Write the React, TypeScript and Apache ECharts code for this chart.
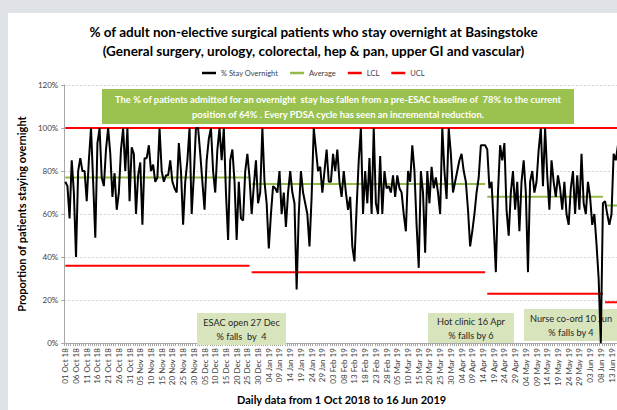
import React, { useEffect, useRef } from "react";
import * as echarts from "echarts";

const MONTHS = ["Jan", "Feb", "Mar", "Apr", "May", "Jun", "Jul", "Aug", "Sep", "Oct", "Nov", "Dec"];
const START_UTC = Date.UTC(2018, 9, 1);
const DAY_COUNT = 259;
const categories: string[] = Array.from({ length: DAY_COUNT }, (_, i) => {
  const d = new Date(START_UTC + i * 86400000);
  return `${String(d.getUTCDate()).padStart(2, "0")} ${MONTHS[d.getUTCMonth()]} ${String(d.getUTCFullYear()).slice(2)}`;
});

// % stay overnight, daily, 1 Oct 2018 - 16 Jun 2019
const stayOvernight: number[] = [
  75, 73, 58, 85, 70, 40, 80, 86, 80, 80,
  66, 85, 100, 75, 49, 93, 100, 77, 73, 90,
  100, 88, 68, 79, 62, 70, 90, 100, 80, 100,
  66, 91, 88, 60, 78, 84, 55, 86, 86, 92,
  80, 83, 75, 77, 100, 80, 75, 78,
  78, 85, 75, 72, 70, 93, 80, 55, 75, 85, 100, 60, 78, 100, 100,
  88, 75, 62, 85, 95, 100, 80, 70, 90, 100,
  85, 100, 70, 48, 85, 90, 75, 48, 75, 58,
  57, 80, 88, 77, 60, 73, 85, 65, 70, 100,
  75, 65, 44, 60, 73, 72, 70, 80, 60, 70,
  54, 70, 80, 70, 65, 25, 60, 80, 70, 65,
  60, 45, 68, 100, 90, 80, 82, 70, 80, 90, 75, 75,
  88, 80, 90, 75, 68, 80, 70, 62, 68, 45,
  38, 63, 85, 100, 60, 80, 65, 86, 60, 100,
  65, 60, 87, 60, 80, 72, 73, 70, 78, 68,
  78, 72, 70, 60, 52, 80, 75, 92, 80, 55,
  35, 80, 70, 42, 80, 65, 82, 72, 77, 70,
  60, 100, 80, 67, 100, 88, 70, 75, 80, 85, 88, 80,
  75, 62, 45, 52, 60, 70, 77, 92, 92, 92,
  90, 72, 75, 55, 33, 70, 92, 85, 93, 62,
  50, 70, 80, 62, 75, 52, 75, 85, 70, 33,
  75, 80, 70, 75, 90, 100, 73, 100, 78, 62,
  85, 75, 68, 78, 72, 62, 75, 60, 55, 72,
  80, 60, 78, 62, 88, 65, 60, 75, 68, 55,
  60, 46, 30, 0, 65, 66, 60, 55, 60, 88, 85, 92,
];

// [startIndex, endIndex, value]
const averageSegments: [number, number, number][] = [
  [0, 86, 77],
  [87, 196, 74],
  [197, 251, 68],
  [252, 258, 64],
];
const lclSegments: [number, number, number][] = [
  [0, 86, 36],
  [87, 196, 33],
  [197, 251, 23],
  [252, 258, 19],
];
const uclSegments: [number, number, number][] = [[0, 258, 100]];

const yTicks = { min: 0, max: 120, interval: 20 };

const TITLE_LINES = [
  "% of adult non-elective surgical patients who stay overnight at Basingstoke",
  "(General surgery, urology, colorectal, hep & pan, upper GI and vascular)",
];
const NOTE_MAIN =
  "The % of patients admitted for an overnight  stay has fallen from a pre-ESAC baseline of  78% to the current\nposition of 64% . Every PDSA cycle has seen an incremental reduction.";
const NOTES_SMALL = [
  "ESAC open 27 Dec\n% falls  by  4",
  "Hot clinic 16 Apr\n% falls by 6",
  "Nurse co-ord 10 Jun\n% falls by 4",
];

const FONT = 'Lato, "Liberation Sans", sans-serif';

function segmentData(seg: [number, number, number]) {
  return categories.map((_, i) => (i >= seg[0] && i <= seg[1] ? seg[2] : null));
}

export default function App() {
  const ref = useRef<HTMLDivElement>(null);

  useEffect(() => {
    if (!ref.current) return;
    const chart = echarts.init(ref.current, undefined, { renderer: "svg" });

    const green = "#94b84a";
    const red = "#ff0000";

    const segSeries = (name: string, segs: [number, number, number][], color: string, z: number) =>
      segs.map((s) => ({
        name,
        type: "line",
        data: segmentData(s),
        showSymbol: false,
        symbol: "none",
        connectNulls: false,
        lineStyle: { color, width: 2 },
        itemStyle: { color },
        z,
        silent: true,
      }));

    const smallBox = (x: number, y: number, w: number, h: number, text: string, tx: number) => [
      {
        type: "rect",
        shape: { x, y, width: w, height: h },
        style: { fill: "#d7e4bc" },
        z: 1,
      },
      {
        type: "text",
        x: tx,
        y: y + h / 2,
        z: 1,
        style: {
          text,
          align: "center",
          verticalAlign: "middle",
          fontFamily: FONT,
          fontSize: 9.2,
          lineHeight: 14,
          fill: "#262626",
        },
      },
    ];

    chart.setOption({
      animation: false,
      backgroundColor: "#ffffff",
      title: {
        text: TITLE_LINES.join("\n"),
        left: "center",
        top: 4,
        textStyle: {
          fontFamily: FONT,
          fontSize: 13.5,
          fontWeight: "bold",
          color: "#000000",
          lineHeight: 19,
        },
      },
      legend: {
        data: ["% Stay Overnight", "Average", "LCL", "UCL"],
        left: 189,
        top: 51,
        icon: "rect",
        itemWidth: 14,
        itemHeight: 2.5,
        itemGap: 12,
        textStyle: { fontFamily: FONT, fontSize: 7.5, color: "#404040" },
      },
      grid: { left: 46, right: 0, top: 72, bottom: 61, containLabel: false },
      xAxis: {
        type: "category",
        data: categories,
        boundaryGap: true,
        name: "Daily data from 1 Oct 2018 to 16 Jun 2019",
        nameLocation: "middle",
        nameGap: 42,
        nameTextStyle: { fontFamily: FONT, fontSize: 11, fontWeight: "bold", color: "#000000" },
        axisLine: { lineStyle: { color: "#a6a6a6" } },
        axisTick: { show: true, interval: 0, length: 3, lineStyle: { color: "#a6a6a6" } },
        axisLabel: {
          interval: 4,
          rotate: 90,
          fontFamily: FONT,
          fontSize: 8,
          color: "#404040",
          margin: 5,
        },
        splitLine: { show: false },
      },
      yAxis: {
        type: "value",
        min: yTicks.min,
        max: yTicks.max,
        interval: yTicks.interval,
        name: "Proportion of patients staying overnight",
        nameLocation: "middle",
        nameGap: 30,
        nameTextStyle: { fontFamily: FONT, fontSize: 11, fontWeight: "bold", color: "#000000" },
        axisLine: { show: true, lineStyle: { color: "#a6a6a6" } },
        axisTick: { show: true, length: 3, lineStyle: { color: "#a6a6a6" } },
        axisLabel: {
          formatter: "{value}%",
          fontFamily: FONT,
          fontSize: 8,
          color: "#404040",
          margin: 6,
        },
        splitLine: { show: true, lineStyle: { color: "#d0d0d0", type: [2, 2], width: 1 } },
      },
      series: [
        ...segSeries("LCL", lclSegments, red, 3),
        ...segSeries("UCL", uclSegments, red, 3),
        ...segSeries("Average", averageSegments, green, 4),
        {
          name: "% Stay Overnight",
          type: "line",
          data: stayOvernight,
          showSymbol: false,
          symbol: "none",
          lineStyle: { color: "#000000", width: 2 },
          itemStyle: { color: "#000000" },
          z: 5,
        },
      ],
      graphic: [
        {
          type: "rect",
          shape: { x: 94, y: 76, width: 472, height: 35 },
          style: { fill: "#9bc24f" },
          z: 1,
        },
        {
          type: "text",
          x: 330,
          y: 93.5,
          z: 1,
          style: {
            text: NOTE_MAIN,
            align: "center",
            verticalAlign: "middle",
            fontFamily: FONT,
            fontSize: 9.4,
            fontWeight: "bold",
            lineHeight: 15,
            fill: "#ffffff",
          },
        },
        ...smallBox(189, 300, 89, 32, NOTES_SMALL[0], 233.5),
        ...smallBox(420, 300, 86, 30, NOTES_SMALL[1], 463),
        ...smallBox(516, 296, 100, 32, NOTES_SMALL[2], 563),
      ],
    });

    return () => chart.dispose();
  }, []);

  return (
    <div
      style={{
        position: "fixed",
        left: 0,
        top: 0,
        width: 617,
        height: 410,
        background: "#dfe3e8",
        overflow: "hidden",
      }}
    >
      <div
        ref={ref}
        style={{ position: "absolute", left: 8, top: 13, width: 611, height: 397, background: "#ffffff" }}
      />
    </div>
  );
}
